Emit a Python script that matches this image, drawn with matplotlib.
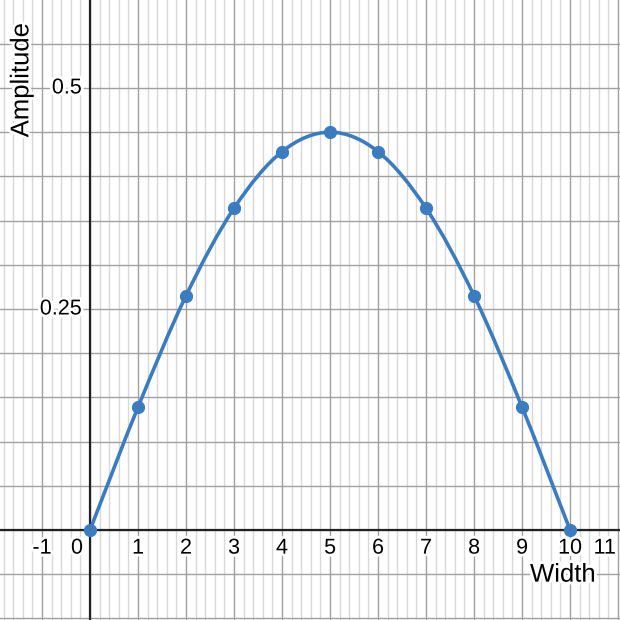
import matplotlib
matplotlib.use("Agg")
import matplotlib.pyplot as plt
import matplotlib.patheffects as pe
from matplotlib.path import Path
from matplotlib.patches import PathPatch
import numpy as np

plt.rcParams['font.family'] = ['Liberation Sans', 'DejaVu Sans']

width = [0, 1, 2, 3, 4, 5, 6, 7, 8, 9, 10]
amplitude = [0.0, 0.139, 0.265, 0.364, 0.428, 0.45, 0.428, 0.364, 0.265, 0.139, 0.0]
x_tick_labels = ['-1', '0', '1', '2', '3', '4', '5', '6', '7', '8', '9', '10', '11']
y_tick_labels = ['0.25', '0.5']

XMIN, XMAX = -1.875, 11.04
YMIN, YMAX = -0.1018, 0.5995

fig = plt.figure(figsize=(6.2, 6.2), dpi=100)
ax = fig.add_axes([0, 0, 1, 1])
ax.set_xlim(XMIN, XMAX)
ax.set_ylim(YMIN, YMAX)
ax.axis('off')

# grid
for i in range(-10, 56):
    xv = i * 0.2
    if XMIN <= xv <= XMAX:
        major = (i % 5 == 0)
        ax.axvline(xv, color='#a0a0a0' if major else '#d8d8d8', lw=1.0, zorder=0)
for j in range(-2, 12):
    yv = j * 0.05
    ax.axhline(yv, color='#a0a0a0', lw=1.0, zorder=0)

ax.axhline(0, color='#222222', lw=1.6, zorder=1)
ax.axvline(0, color='#222222', lw=1.6, zorder=1)

halo = [pe.withStroke(linewidth=4, foreground='white')]
# x tick labels
for lab in x_tick_labels:
    v = int(lab)
    xpos = v
    if v == 0:
        xpos = -0.27
    if v == 11:
        xpos = 10.72
    ax.text(xpos, -0.0205, lab, ha='center', va='center', fontsize=15.5,
            color='black', path_effects=halo, zorder=3)
for lab in y_tick_labels:
    ax.text(-0.17, float(lab), lab, ha='right', va='center', fontsize=15.5,
            color='black', path_effects=halo, zorder=3)

ax.text(9.85, -0.0505, 'Width', ha='center', va='center', fontsize=18.5,
        path_effects=halo, zorder=3)
ax.text(-1.43, 0.509, 'Amplitude', ha='center', va='center', rotation=90,
        fontsize=18.5, path_effects=halo, zorder=3)

# smooth curve through points (cubic Bezier segments, Catmull-Rom tangents)
xs = np.array(width, dtype=float)
ys = np.array(amplitude, dtype=float)
n = len(xs)
tx = np.gradient(xs)
ty = np.gradient(ys)
verts = [(xs[0], ys[0])]
codes = [Path.MOVETO]
for k in range(n - 1):
    c1 = (xs[k] + tx[k] / 3, ys[k] + ty[k] / 3)
    c2 = (xs[k + 1] - tx[k + 1] / 3, ys[k + 1] - ty[k + 1] / 3)
    verts += [c1, c2, (xs[k + 1], ys[k + 1])]
    codes += [Path.CURVE4] * 3
ax.add_patch(PathPatch(Path(verts, codes), fill=False, edgecolor='#3b7cc0',
                       lw=2.6, zorder=4, capstyle='round'))
ax.plot(width, amplitude, 'o', color='#3b7cc0', markersize=8.5, zorder=5)

fig.savefig('out.png', dpi=100)
